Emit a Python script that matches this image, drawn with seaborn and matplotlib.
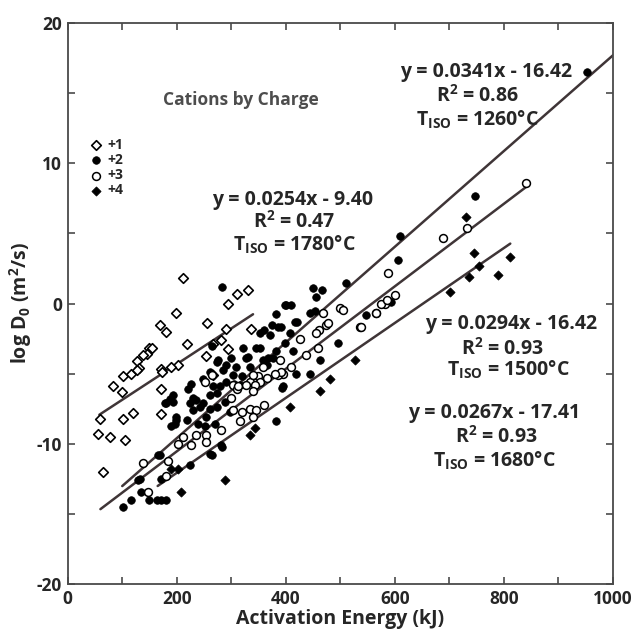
import numpy as np
import pandas as pd
import seaborn as sns
import matplotlib
matplotlib.use("Agg")
import matplotlib.pyplot as plt

# activation energy (kJ) and log D0 for each cation charge
e_p1 = [212, 330, 310, 294, 198, 169, 180, 256, 290, 337, 218, 150, 146, 138, 128, 130, 253, 267,
        282, 294, 202, 190, 172, 102, 117, 127, 267, 83, 99, 172, 59, 102, 120, 171, 56, 78, 105,
        65, 173, 154]
d_p1 = [1.8, 1.0, 0.7, 0.0, -0.7, -1.5, -2.0, -1.4, -1.8, -1.85, -2.9, -3.2, -3.6, -3.7, -4.1, -4.6,
        -3.75, -2.9, -2.6, -3.25, -4.4, -4.5, -4.7, -5.2, -5.0, -4.75, -5.1, -5.9, -6.3, -6.1, -8.2,
        -8.2, -7.8, -7.9, -9.3, -9.5, -9.7, -12.0, -4.9, -3.2]

e_p2 = [101, 117, 135, 150, 163, 172, 181, 129, 166, 172, 224, 261, 190, 199, 178, 193, 224, 242,
        254, 273, 218, 382, 264, 282, 548, 495, 462, 413, 394, 419, 382, 398, 410, 374, 386, 417,
        407, 398, 444, 377, 365, 609, 606, 594, 748, 952, 283, 450, 467, 456, 511, 401, 453, 420,
        392, 371, 352, 368, 383, 358, 322, 328, 334, 395, 444, 276, 285, 300, 309, 305, 291, 303,
        319, 331, 273, 261, 248, 227, 221, 193, 187, 236, 248, 261, 273, 267, 279, 291, 316, 230,
        261, 288, 297, 199, 239, 251, 270, 346, 361, 352, 264, 181, 196, 169, 132, 230, 283]
d_p2 = [-14.5, -14.0, -13.4, -14.0, -14.0, -14.0, -14.0, -12.6, -10.8, -12.5, -11.5, -10.7, -8.7,
        -8.1, -7.1, -7.0, -7.1, -7.4, -8.1, -7.4, -8.3, -8.4, -10.8, -10.1, -0.8, -2.8, -4.0, -3.4,
        -6.0, -5.0, -0.75, -0.1, -0.1, -1.5, -1.7, -1.3, -2.1, -2.8, -0.7, -3.9, -4.4, 4.8, 3.1, 0.1,
        7.7, 16.5, 1.15, 1.1, 0.96, 0.5, 1.44, -0.1, -0.5, -1.3, -1.65, -2.25, -3.2, -3.9, -3.4, -4.0,
        -3.2, -3.9, -4.5, -5.9, -5.0, -4.0, -4.75, -3.9, -4.5, -5.7, -4.4, -5.1, -5.2, -3.8, -4.2,
        -4.9, -5.4, -5.7, -6.1, -6.5, -6.8, -6.9, -7.1, -6.5, -6.4, -5.9, -5.9, -5.6, -5.8, -7.6,
        -7.5, -7.0, -7.7, -8.3, -8.6, -8.7, -8.6, -3.2, -1.9, -2.1, -3.0, -7.1, -8.6, -10.8, -12.5,
        -6.7, -10.2]

e_p3 = [138, 184, 147, 181, 202, 212, 227, 236, 254, 254, 282, 499, 468, 474, 461, 456, 566, 536,
        426, 459, 438, 389, 410, 395, 386, 689, 588, 600, 582, 733, 840, 575, 585, 565, 539, 505,
        478, 392, 380, 349, 352, 334, 343, 303, 310, 300, 264, 251, 313, 328, 340, 365, 340, 358,
        303, 319, 334, 346, 361, 316, 340]
d_p3 = [-11.4, -11.25, -13.4, -12.3, -10.0, -9.5, -10.1, -9.4, -9.4, -9.9, -9.0, -0.35, -0.7, -1.5,
        -1.9, -2.1, -0.7, -1.7, -2.5, -3.2, -3.7, -4.0, -4.5, -5.0, -5.1, 4.7, 2.2, 0.6, 0.0, 5.4,
        8.6, 0.0, 0.25, -0.65, -1.65, -0.46, -1.4, -4.9, -5.0, -5.2, -5.6, -5.6, -5.8, -5.8, -6.1,
        -6.7, -5.1, -5.6, -5.9, -5.8, -6.2, -5.3, -5.1, -4.5, -7.6, -7.7, -7.5, -7.6, -7.25, -8.4,
        -8.1]

e_p4 = [207, 288, 190, 202, 334, 343, 407, 528, 481, 462, 701, 746, 754, 736, 790, 811, 731]
d_p4 = [-13.4, -12.6, -11.8, -11.8, -9.4, -8.9, -7.4, -4.0, -5.4, -6.2, 0.85, 3.6, 2.7, 1.9, 2.0,
        3.3, 6.2]

charges = ["+1", "+2", "+3", "+4"]
energies = [e_p1, e_p2, e_p3, e_p4]
logds = [d_p1, d_p2, d_p3, d_p4]

# fitted lines per charge: slope, intercept, x range, and the printed labels
slopes = [0.0254, 0.0341, 0.0294, 0.0267]
intercepts = [-9.40, -16.42, -16.42, -17.41]
x_start = [58, 100, 60, 165]
x_end = [340, 1005, 842, 812]
eq_labels = ["y = 0.0254x - 9.40", "y = 0.0341x - 16.42", "y = 0.0294x - 16.42", "y = 0.0267x - 17.41"]
r2_labels = ["0.47", "0.86", "0.93", "0.93"]
tiso_labels = ["1780", "1260", "1500", "1680"]

rows = []
for c, es, ds in zip(charges, energies, logds):
    for e, d in zip(es, ds):
        rows.append((c, e, d))
df = pd.DataFrame(rows, columns=["charge", "energy", "logD"])

sns.set_style("ticks")
plt.rcParams["font.family"] = ["Open Sans", "DejaVu Sans"]
plt.rcParams["font.weight"] = "bold"
plt.rcParams["axes.unicode_minus"] = False

fig = plt.figure(figsize=(6.33, 6.37), dpi=100)
ax = fig.add_axes([0.107, 0.083, 0.861, 0.881])

marker_style = {
    "+1": dict(marker="D", color="white", edgecolor="black", s=24, linewidth=1.2),
    "+2": dict(marker="o", color="black", edgecolor="black", s=30, linewidth=0.5),
    "+3": dict(marker="o", color="white", edgecolor="black", s=32, linewidth=1.1),
    "+4": dict(marker="D", color="black", edgecolor="black", s=22, linewidth=0.5),
}

line_col = "#3f3537"
for i, c in enumerate(charges):
    xs = np.array([x_start[i], x_end[i]])
    ax.plot(xs, slopes[i] * xs + intercepts[i], color=line_col, lw=1.8, zorder=1)

for c in charges:
    sub = df[df["charge"] == c]
    sns.scatterplot(data=sub, x="energy", y="logD", ax=ax, label=c, zorder=3, **marker_style[c])

ax.set_xlim(0, 1000)
ax.set_ylim(-20, 20)
ax.set_xticks([0, 200, 400, 600, 800, 1000])
ax.set_xticks(np.arange(100, 1000, 200), minor=True)
ax.set_yticks([-20, -10, 0, 10, 20])
ax.set_yticks([-15, -5, 5, 15], minor=True)
spine_col = "#4a4a4a"
for s in ax.spines.values():
    s.set_visible(True)
    s.set_color(spine_col)
    s.set_linewidth(1.3)
ax.tick_params(which="both", direction="in", top=True, right=True, length=5, width=1.2,
               color=spine_col, labelsize=12.5, pad=4)
for lab in ax.get_xticklabels() + ax.get_yticklabels():
    lab.set_fontweight("bold")

ax.set_xlabel("Activation Energy (kJ)", fontsize=14, fontweight="bold", labelpad=1)
ax.set_ylabel(r"log D$_\mathregular{0}$ (m$^\mathregular{2}$/s)", fontsize=14, fontweight="bold",
              labelpad=2)

ax.text(0.175, 0.862, "Cations by Charge", transform=ax.transAxes, fontsize=12.5,
        fontweight="bold", color="#4d4d4d", va="center", ha="left")

leg = ax.legend(loc="upper left", bbox_to_anchor=(0.04, 0.795), frameon=False, fontsize=10,
                handlelength=0.9, handletextpad=0.4, labelspacing=0.08, borderpad=0, borderaxespad=0)
for t in leg.get_texts():
    t.set_fontweight("bold")

# centre of each text line of the equation annotations (eq, R2, T_ISO)
eq_x = [413, 767, 813, 782]
eq_y = [7.4, 16.5, -1.45, -7.8]
r2_x = [416, 751, 797, 787]
r2_y = [5.8, 14.8, -3.2, -9.5]
ti_x = [416, 751, 809, 782]
ti_y = [4.2, 13.1, -4.75, -11.2]
for i in range(4):
    ax.text(eq_x[i], eq_y[i], eq_labels[i], ha="center", va="center", fontsize=14, fontweight="bold")
    ax.text(r2_x[i], r2_y[i], "R$^\\mathregular{2}$ = " + r2_labels[i], ha="center",
            va="center", fontsize=14, fontweight="bold")
    ax.text(ti_x[i], ti_y[i], "T$_\\mathregular{ISO}$ = " + tiso_labels[i] + "°C", ha="center",
            va="center", fontsize=14, fontweight="bold")

fig.savefig("out.png", dpi=100)
